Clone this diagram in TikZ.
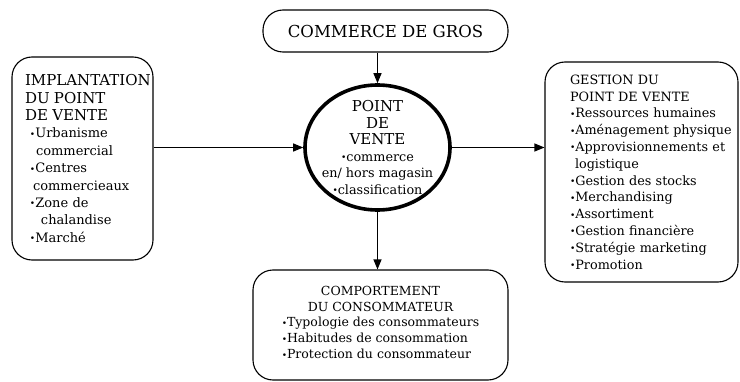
\documentclass[tikz,border=0pt]{standalone}
\usepackage{fontspec}
\setmainfont{DejaVu Serif}
\usetikzlibrary{shapes.geometric,arrows.meta}
\newcommand{\puce}{\raisebox{0.6pt}{\fontsize{9}{9}\selectfont\textbullet}}
\newcommand{\gross}[1]{{\fontsize{15}{17.4}\selectfont #1}}
\begin{document}
\begin{tikzpicture}[x=1pt, y=1pt,
        kasten/.style={draw, rounded corners=20pt, line width=1.1pt, inner sep=0pt},
        schrift/.style 2 args={font=\fontsize{#1}{#2}\selectfont},
        pfeil/.style={line width=1.1pt, -{Triangle[length=10pt, width=8pt]}}]
        \useasboundingbox (0,0) rectangle (740,381);
        % Knoten
        \node[kasten, schrift={16.5}{20}, minimum width=245pt, minimum height=42pt] (gros) at (385.5,350)
            {COMMERCE DE GROS};
        \node[draw, ellipse, line width=3.6pt, schrift={12.8}{16.6}, align=center, inner sep=-10pt,
            minimum width=145pt, minimum height=125pt] (pdv) at (377.5,233.5)
            {\gross{POINT}\\\gross{DE}\\\gross{VENTE}\\\puce commerce\\en/ hors magasin\\\puce classification};
        \node[kasten, schrift={13}{17.4}, align=left, text width=115pt, inner xsep=13pt,
            minimum width=141pt, minimum height=203pt] (implant) at (82.5,222.5)
            {\gross{IMPLANTATION}\\
            \gross{DU POINT}\\
            \gross{DE VENTE}\\
            \hspace*{5pt}\puce Urbanisme\\
            \hspace*{11pt}commercial\\
            \hspace*{5pt}\puce Centres\\
            \hspace*{8pt}commercieaux\\
            \hspace*{5pt}\puce Zone de\\
            \hspace*{16pt}chalandise\\
            \hspace*{5pt}\puce Marché};
        \node[kasten, schrift={12.8}{16.8}, align=left, text width=143pt, inner xsep=25pt,
            minimum width=193pt, minimum height=220pt] (gestion) at (641.5,209)
            {GESTION DU\\
            POINT DE VENTE\\
            \mbox{\puce Ressources humaines}\\
            \mbox{\puce Aménagement physique}\\
            \mbox{\puce Approvisionnements et}\\
            \hspace*{5pt}logistique\\
            \puce Gestion des stocks\\
            \puce Merchandising\\
            \puce Assortiment\\
            \puce Gestion financière\\
            \mbox{\puce Stratégie marketing}\\
            \puce Promotion};
        \node[kasten, schrift={12.5}{16}, align=center, minimum width=255pt, minimum height=110pt] (comport) at (380.5,56)
            {COMPORTEMENT\\
            DU CONSOMMATEUR\\[3pt]
            \begin{tabular}{@{}l@{}}
            \puce Typologie des consommateurs\\
            \puce Habitudes de consommation\\
            \puce Protection du consommateur
            \end{tabular}};
        % Pfeile
        \draw[pfeil] (pdv.north |- gros.south) -- (pdv.north);
        \draw[pfeil] (pdv.west -| implant.east) -- (pdv.west);
        \draw[pfeil] (pdv.east) -- (pdv.east -| gestion.west);
        \draw[pfeil] (pdv.south) -- (pdv.south |- comport.north);
\end{tikzpicture}
\end{document}
